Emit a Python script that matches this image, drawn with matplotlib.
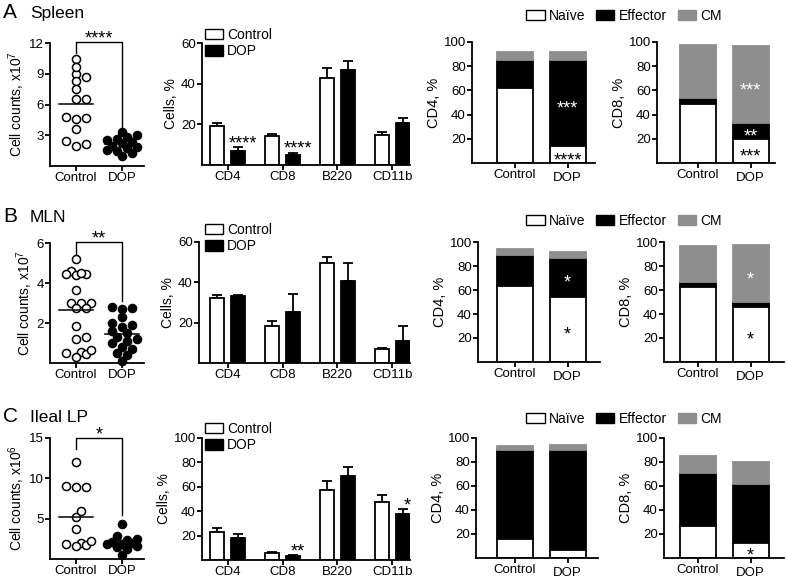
import matplotlib
matplotlib.use("Agg")
import matplotlib.pyplot as plt
from matplotlib.patches import Patch
from matplotlib.transforms import ScaledTranslation
import numpy as np

plt.rcParams["font.family"] = ["Liberation Sans", "DejaVu Sans"]
plt.rcParams["mathtext.fontset"] = "custom"
plt.rcParams["mathtext.rm"] = "Liberation Sans"
plt.rcParams["mathtext.it"] = "Liberation Sans:italic"

W, H = 787, 580
GRAY = "#8e8e8e"
LW = 1.3

groups = ["Control", "DOP"]
markers = ["CD4", "CD8", "B220", "CD11b"]
subsets = ["Naïve", "Effector", "CM"]
row_titles = [("A", "Spleen"), ("B", "MLN"), ("C", "Ileal LP")]

# --- cell counts (scatter) ---
spleen_ctrl = [10.4, 9.0, 9.7, 8.3, 8.7, 7.5, 6.5, 6.5, 4.8, 4.6, 4.7, 3.6, 2.4, 2.0, 2.15]
spleen_dop = [3.3, 3.0, 2.8, 2.6, 2.5, 2.3, 2.2, 2.0, 1.9, 1.8, 1.6, 1.5, 1.3, 1.0]
mln_ctrl = [5.2, 4.6, 4.45, 4.4, 4.45, 4.5, 3.65, 3.0, 3.0, 3.0, 2.75, 2.75, 1.85, 1.3, 1.2,
            0.55, 0.3, 0.45, 0.5, 0.65]
mln_dop = [2.8, 2.75, 2.7, 2.3, 2.0, 1.9, 1.8, 1.6, 1.5, 1.3, 1.2, 1.1, 1.0, 0.8, 0.7, 0.5, 0.4, 0.1]
lp_ctrl = [12.0, 8.95, 8.9, 9.0, 5.2, 6.0, 3.7, 2.0, 1.6, 1.7, 1.8, 2.2]
lp_dop = [4.4, 2.8, 2.5, 2.3, 2.1, 2.0, 1.9, 1.8, 1.6, 1.5, 1.2, 0.5]

count_ylabels = [r"Cell counts, x10$^{7}$", r"Cell counts, x10$^{7}$", r"Cell counts, x10$^{6}$"]
count_yticks = [[3, 6, 9, 12], [2, 4, 6], [5, 10, 15]]
count_sig = ["****", "**", "*"]
# bracket: top, left foot, right foot
count_bracket = [(12.1, 11.0, 3.2), (6.05, 5.45, 3.1), (15.0, 13.6, 5.5)]

# --- cells, % (grouped bars) ---
pct_ctrl = [[19.2, 14.3, 42.8, 14.6], [32.4, 18.1, 49.8, 7.1], [22.8, 5.4, 57.5, 47.6]]
pct_ctrl_sem = [[1.3, 1.0, 4.7, 1.8], [1.5, 2.6, 2.6, 0.5], [3.8, 1.0, 7.0, 5.9]]
pct_dop = [[7.1, 4.8, 46.5, 20.5], [33.2, 25.5, 40.5, 10.9], [18.0, 3.2, 68.5, 37.3]]
pct_dop_sem = [[1.6, 1.3, 4.5, 2.5], [0.3, 8.5, 9.0, 7.6], [3.5, 0.5, 7.8, 4.6]]
pct_sig = [["****", "****", "", ""], ["", "", "", ""], ["", "**", "", "*"]]
pct_ymax = [60, 60, 100]

# --- subsets (stacked), [naive, effector, CM] per group ---
cd4_ctrl = [[61.7, 23.1, 6.9], [63.5, 25.5, 5.5], [15.9, 73.9, 3.9]]
cd4_dop = [[13.8, 71.0, 6.9], [54.4, 32.6, 4.7], [6.3, 84.1, 4.1]]
cd8_ctrl = [[49.0, 4.4, 43.8], [62.7, 3.6, 30.1], [26.6, 44.3, 14.3]]
cd8_dop = [[19.8, 13.5, 63.1], [46.1, 3.6, 47.5], [12.6, 48.9, 18.2]]
# significance inside DOP bar: (segment index, text, colour)
cd4_sig = [[(1, "***", "white"), (0, "****", "black")],
           [(1, "*", "white"), (0, "*", "black")],
           []]
cd8_sig = [[(2, "***", "white"), (1, "**", "white"), (0, "***", "black")],
           [(2, "*", "white"), (0, "*", "black")],
           [(0, "*", "black")]]

# layout (pixels: left, top, right, bottom)
scatter_rects = [(50, 43, 144, 166), (50, 243, 144, 363), (50, 438, 144, 559)]
bar_rects = [(202, 43, 410, 165), (199, 242, 410, 363), (202, 438, 410, 560)]
cd4_rects = [(472, 42, 595, 163), (478, 242, 600, 362), (476, 438, 598, 558)]
cd8_rects = [(657, 42, 775, 163), (664, 242, 784, 362), (664, 438, 784, 558)]
row_tops = [18, 222, 422]
subset_legend_y = [16, 221, 419]
bar_legend_y = [28, 223, 422]


def px_axes(fig, rect):
    l, t, r, b = rect
    return fig.add_axes([l / W, 1 - b / H, (r - l) / W, (b - t) / H])


def style(ax):
    for s in ("top", "right"):
        ax.spines[s].set_visible(False)
    for s in ("left", "bottom"):
        ax.spines[s].set_linewidth(LW)
    ax.tick_params(width=LW, length=3.5, labelsize=9.5, pad=1, direction="out")


def swarm_x(ax, x0, vals, d=7.0, step=5.0, wmax=15.0):
    # simple beeswarm in pixel space, limited width
    pts = ax.transData.transform(np.column_stack([np.full(len(vals), x0), vals]))
    xc = pts[0, 0]
    ys = pts[:, 1]
    cands = [0.0]
    k = 1
    while k * step <= wmax:
        cands += [k * step, -k * step]
        k += 1
    placed = []
    xs = np.zeros(len(vals))
    for i in np.argsort(ys):
        best, bestd = 0.0, -1
        for off in cands:
            dmin = min([np.hypot(off - px, ys[i] - py) for px, py in placed] + [1e9])
            if dmin >= d:
                best = off
                break
            if dmin > bestd:
                best, bestd = off, dmin
        placed.append((best, ys[i]))
        xs[i] = best
    back = ax.transData.inverted().transform(np.column_stack([xc + xs, ys]))
    return back[:, 0]


def star(ax, x, y, text, color, size=13):
    ax.annotate(text, (x, y), xytext=(0, -0.58 * size), textcoords="offset points",
                ha="center", va="baseline", fontsize=size, color=color,
                annotation_clip=False)


fig = plt.figure(figsize=(W / 100, H / 100), dpi=100)

count_data = [(spleen_ctrl, spleen_dop), (mln_ctrl, mln_dop), (lp_ctrl, lp_dop)]
down = ScaledTranslation(0, -3 / 100, fig.dpi_scale_trans)

for r in range(3):
    # panel letter + tissue
    fig.text(3 / W, 1 - row_tops[r] / H, row_titles[r][0], fontsize=15, va="baseline")
    fig.text(30 / W, 1 - row_tops[r] / H, row_titles[r][1], fontsize=12.5, va="baseline")

    # ---- scatter ----
    ax = px_axes(fig, scatter_rects[r])
    style(ax)
    l, t, rr, b = scatter_rects[r]
    ax.set_xlim((l - 76) / 46, (rr - 76) / 46)
    ax.set_ylim(0, count_yticks[r][-1])
    ax.set_yticks(count_yticks[r])
    ax.set_xticks([0, 1])
    ax.set_xticklabels(groups)
    ax.set_ylabel(count_ylabels[r], fontsize=10, labelpad=1)
    for gi, vals in enumerate(count_data[r]):
        xs = swarm_x(ax, gi, vals)
        ax.plot(xs, vals, "o", ms=5.8, mew=1.1, mec="black",
                mfc="white" if gi == 0 else "black", clip_on=False, zorder=3)
        m = np.mean(vals)
        ax.plot([gi - 0.36, gi + 0.36], [m, m], color="black", lw=1.1, zorder=4)
    top, lf, rf = count_bracket[r]
    ax.plot([0, 0, 1, 1], [lf, top, top, rf], color="black", lw=1.0, clip_on=False)
    star(ax, 0.5, top + count_yticks[r][-1] * 0.075, count_sig[r], "black")

    # ---- grouped bars ----
    ax = px_axes(fig, bar_rects[r])
    style(ax)
    l, t, rr, b = bar_rects[r]
    sc = 54.7
    ax.set_xlim((l - 228) / sc, (rr - 228) / sc)
    ax.set_ylim(0, pct_ymax[r])
    ax.set_yticks(list(range(20, pct_ymax[r] + 1, 20)))
    x = np.arange(len(markers))
    off, bw = 10.5 / sc, 14 / sc
    ax.bar(x - off, pct_ctrl[r], bw, color="white", edgecolor="black", lw=LW, zorder=2)
    ax.bar(x + off, pct_dop[r], bw, color="black", edgecolor="black", lw=LW, zorder=2)
    ax.errorbar(x - off, pct_ctrl[r], yerr=[np.zeros(4), pct_ctrl_sem[r]], fmt="none",
                ecolor="black", elinewidth=LW, capsize=3.5, capthick=LW, zorder=1)
    ax.errorbar(x + off, pct_dop[r], yerr=[np.zeros(4), pct_dop_sem[r]], fmt="none",
                ecolor="black", elinewidth=LW, capsize=3.5, capthick=LW, zorder=1)
    for i, s in enumerate(pct_sig[r]):
        if s:
            ytop = pct_dop[r][i] + pct_dop_sem[r][i] + pct_ymax[r] * 0.075
            star(ax, x[i] + off + 0.08, ytop, s, "black")
    ax.set_xticks(x)
    ax.set_xticklabels(markers)
    ax.set_ylabel("Cells, %", fontsize=10, labelpad=2)
    ax.legend(handles=[Patch(facecolor="white", edgecolor="black", lw=1.0, label="Control"),
                       Patch(facecolor="black", edgecolor="black", lw=1.0, label="DOP")],
              loc="upper left", bbox_to_anchor=(205 / W, 1 - bar_legend_y[r] / H),
              bbox_transform=fig.transFigure, frameon=False, fontsize=10,
              handlelength=1.3, handleheight=0.8, handletextpad=0.3,
              labelspacing=0.15, borderpad=0, borderaxespad=0)

    # ---- stacked subsets ----
    for name, rect, ctrl, dop, sig, c0 in (
        ("CD4, %", cd4_rects[r], cd4_ctrl[r], cd4_dop[r], cd4_sig[r], 515),
        ("CD8, %", cd8_rects[r], cd8_ctrl[r], cd8_dop[r], cd8_sig[r], 698),
    ):
        ax = px_axes(fig, rect)
        style(ax)
        l, t, rr, b = rect
        sc = 52.5
        ax.set_xlim((l - c0) / sc, (rr - c0) / sc)
        ax.set_ylim(0, 100)
        ax.set_yticks([20, 40, 60, 80, 100])
        bw = 36 / sc
        segs = np.array([ctrl, dop])
        bottoms = np.zeros(2)
        for k, (fc, ec) in enumerate((("white", "black"), ("black", "black"), (GRAY, GRAY))):
            ax.bar([0, 1], segs[:, k], bw, bottom=bottoms, color=fc, edgecolor=ec,
                   lw=LW, zorder=2 if k == 0 else 1)
            bottoms = bottoms + segs[:, k]
        for k, txt, col in sig:
            ymid = segs[1, :k].sum() + segs[1, k] / 2
            star(ax, 1, ymid, txt, col)
        ax.set_xticks([0, 1])
        ax.set_xticklabels(groups)
        lab = ax.get_xticklabels()[1]
        lab.set_transform(lab.get_transform() + down)
        ax.set_ylabel(name, fontsize=10.5, labelpad=2)

    fig.legend(handles=[Patch(facecolor="white", edgecolor="black", lw=1.0, label=subsets[0]),
                        Patch(facecolor="black", edgecolor="black", lw=1.0, label=subsets[1]),
                        Patch(facecolor=GRAY, edgecolor=GRAY, lw=1.0, label=subsets[2])],
               loc="center", bbox_to_anchor=(624 / W, 1 - subset_legend_y[r] / H), ncol=3,
               frameon=False, fontsize=10, handlelength=1.3, handleheight=0.8,
               handletextpad=0.3, columnspacing=0.8, borderpad=0)

fig.savefig("out.png", dpi=100)
